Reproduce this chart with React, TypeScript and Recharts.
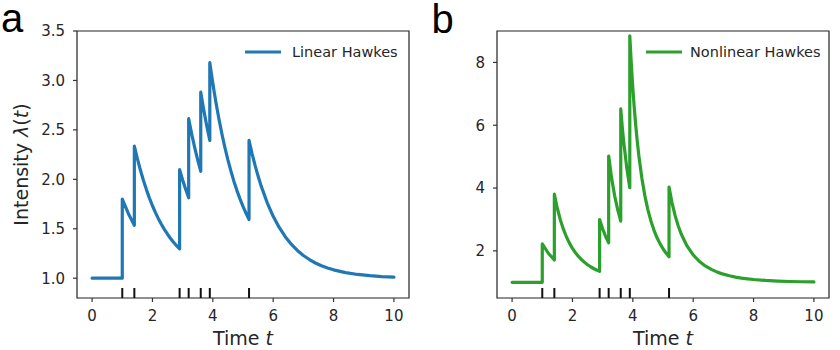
import React from "react";
import {
  ComposedChart,
  Line,
  Scatter,
  XAxis,
  YAxis,
  ReferenceArea,
  Legend,
} from "recharts";

// Sample times; repeated times mark the instantaneous jumps at each event.
const times = [
  0, 1.0, 1.0, 1.2, 1.4, 1.4, 1.5, 1.6, 1.7, 1.8,
  1.9, 2.0, 2.1, 2.2, 2.3, 2.4, 2.5, 2.6, 2.7, 2.8,
  2.9, 2.9, 3.0, 3.1, 3.2, 3.2, 3.3, 3.4, 3.5, 3.6,
  3.6, 3.65, 3.7, 3.8, 3.9, 3.9, 3.95, 4.0, 4.05, 4.1,
  4.15, 4.2, 4.3, 4.4, 4.5, 4.6, 4.7, 4.8, 4.9, 5.0,
  5.1, 5.2, 5.2, 5.3, 5.4, 5.5, 5.6, 5.8, 6.0, 6.2,
  6.4, 6.6, 6.8, 7.0, 7.2, 7.4, 7.6, 7.8, 8.0, 8.4,
  8.8, 9.2, 9.6, 10.0,
];

const linearIntensity = [
  1.0, 1.0, 1.8, 1.655, 1.536, 2.336, 2.209, 2.094, 1.99, 1.896,
  1.81, 1.733, 1.663, 1.6, 1.543, 1.492, 1.445, 1.402, 1.364, 1.329,
  1.298, 2.098, 1.994, 1.899, 1.813, 2.613, 2.459, 2.321, 2.195, 2.081,
  2.881, 2.789, 2.702, 2.54, 2.393, 3.18, 3.074, 2.973, 2.876, 2.785,
  2.698, 2.615, 2.461, 2.322, 2.196, 2.083, 1.979, 1.886, 1.802, 1.726,
  1.657, 1.594, 2.394, 2.261, 2.141, 2.033, 1.934, 1.765, 1.626, 1.513,
  1.42, 1.344, 1.281, 1.23, 1.189, 1.154, 1.126, 1.104, 1.085, 1.057,
  1.038, 1.026, 1.017, 1.011,
];

const nonlinearIntensity = [
  1.0, 1.0, 2.226, 1.925, 1.709, 3.804, 3.35, 2.986, 2.691, 2.45,
  2.248, 2.081, 1.941, 1.822, 1.721, 1.636, 1.56, 1.495, 1.439, 1.39,
  1.347, 2.998, 2.702, 2.457, 2.255, 5.018, 4.301, 3.747, 3.304, 2.948,
  6.52, 5.949, 5.457, 4.641, 4.011, 8.846, 7.955, 7.186, 6.528, 5.96,
  5.463, 5.028, 4.311, 3.751, 3.307, 2.954, 2.662, 2.425, 2.23, 2.067,
  1.929, 1.811, 4.031, 3.529, 3.13, 2.81, 2.545, 2.149, 1.87, 1.67,
  1.522, 1.411, 1.324, 1.259, 1.208, 1.166, 1.134, 1.11, 1.089, 1.059,
  1.039, 1.026, 1.017, 1.011,
];

// Event times shown as a rug along the bottom of each panel.
const eventTimes = [1.0, 1.4, 2.9, 3.2, 3.6, 3.9, 5.2];

const xTicks = [0, 2, 4, 6, 8, 10];
const linearYTicks = [1.0, 1.5, 2.0, 2.5, 3.0, 3.5];
const nonlinearYTicks = [2, 4, 6, 8];

const X_DOMAIN: [number, number] = [-0.5, 10.5];
const LINEAR_Y_DOMAIN: [number, number] = [0.8, 3.5];
const NONLINEAR_Y_DOMAIN: [number, number] = [0.5, 9.0];

const BLUE = "#1f77b4";
const GREEN = "#2ca02c";
const TEXT = "#262626";
const FONT = "DejaVu Sans";

const W = 420;
const H = 350;

type PanelProps = {
  values: number[];
  color: string;
  name: string;
  yDomain: [number, number];
  yTicks: number[];
  yFormat: (v: number) => string;
  yLabel: boolean;
  legendLeft: number;
  legendGap: number;
};

const EventTick = (props: any) => {
  const { cx, cy } = props;
  if (cx == null || cy == null) return null;
  return (
    <line x1={cx} x2={cx} y1={cy} y2={cy - 10} stroke="#111" strokeWidth={2} />
  );
};

const YLabel = (props: any) => {
  const vb = props.viewBox || {};
  const cy = (vb.y ?? 31) + (vb.height ?? 267) / 2;
  return (
    <text
      transform={`translate(27.5, ${cy}) rotate(-90)`}
      textAnchor="middle"
      fontFamily={FONT}
      fontSize={19}
      fill={TEXT}
    >
      Intensity <tspan fontStyle="italic">λ</tspan>(
      <tspan fontStyle="italic">t</tspan>)
    </text>
  );
};

const XLabel = (props: any) => {
  const vb = props.viewBox || {};
  const cx = (vb.x ?? 77) + (vb.width ?? 332) / 2;
  return (
    <text
      x={cx}
      y={345}
      textAnchor="middle"
      fontFamily={FONT}
      fontSize={19}
      fill={TEXT}
    >
      Time <tspan fontStyle="italic">t</tspan>
    </text>
  );
};

function Panel(p: PanelProps) {
  const series = times.map((t, i) => ({ t, v: p.values[i] }));
  const events = eventTimes.map((t) => ({ t, y: p.yDomain[0] }));
  const tickStyle = { fontFamily: FONT, fontSize: 15, fill: TEXT };

  return (
    <ComposedChart
      width={W}
      height={H}
      margin={{ top: 31, right: 11, bottom: 22, left: 37 }}
    >
      <XAxis
        dataKey="t"
        type="number"
        domain={X_DOMAIN}
        ticks={xTicks}
        allowDataOverflow
        axisLine={false}
        tickSize={4}
        tickMargin={8}
        tickLine={{ stroke: "#333", strokeWidth: 1.2 }}
        tick={tickStyle}
        height={30}
        label={<XLabel />}
      />
      <YAxis
        type="number"
        domain={p.yDomain}
        ticks={p.yTicks}
        allowDataOverflow
        axisLine={false}
        tickSize={4}
        tickMargin={8}
        tickLine={{ stroke: "#333", strokeWidth: 1.2 }}
        tick={tickStyle}
        tickFormatter={p.yFormat}
        width={40}
        label={p.yLabel ? <YLabel /> : undefined}
      />
      <ReferenceArea
        x1={X_DOMAIN[0]}
        x2={X_DOMAIN[1]}
        y1={p.yDomain[0]}
        y2={p.yDomain[1]}
        fill="none"
        stroke="#222"
        strokeWidth={1.2}
        ifOverflow="visible"
      />
      <Line
        data={series}
        dataKey="v"
        name={p.name}
        type="linear"
        stroke={p.color}
        strokeWidth={3.2}
        strokeLinejoin="round"
        strokeLinecap="round"
        dot={false}
        activeDot={false}
        isAnimationActive={false}
      />
      <Scatter
        data={events}
        dataKey="y"
        shape={<EventTick />}
        isAnimationActive={false}
        legendType="none"
      />
      <Legend
        layout="horizontal"
        verticalAlign="middle"
        align="center"
        wrapperStyle={{
          top: 43.5,
          left: p.legendLeft,
          width: "auto",
          height: "auto",
        }}
        content={() => (
          <div
            style={{
              display: "flex",
              alignItems: "center",
              fontFamily: FONT,
              fontSize: 14.5,
              color: TEXT,
              whiteSpace: "nowrap",
              lineHeight: "17px",
            }}
          >
            <svg width={36} height={6}>
              <line x1={0} x2={36} y1={3} y2={3} stroke={p.color} strokeWidth={3.2} />
            </svg>
            <span style={{ marginLeft: p.legendGap }}>{p.name}</span>
          </div>
        )}
      />
    </ComposedChart>
  );
}

export default function App() {
  return (
    <div
      style={{
        position: "absolute",
        left: 0,
        top: 0,
        width: 840,
        height: 350,
        background: "#fff",
      }}
    >
      <div style={{ position: "absolute", left: 0, top: 0 }}>
        <Panel
          values={linearIntensity}
          color={BLUE}
          name="Linear Hawkes"
          yDomain={LINEAR_Y_DOMAIN}
          yTicks={linearYTicks}
          yFormat={(v) => v.toFixed(1)}
          yLabel={true}
          legendLeft={245}
          legendGap={11}
        />
      </div>
      <div style={{ position: "absolute", left: 420, top: 0 }}>
        <Panel
          values={nonlinearIntensity}
          color={GREEN}
          name="Nonlinear Hawkes"
          yDomain={NONLINEAR_Y_DOMAIN}
          yTicks={nonlinearYTicks}
          yFormat={(v) => String(v)}
          yLabel={false}
          legendLeft={226}
          legendGap={8}
        />
      </div>
      <svg
        width={840}
        height={350}
        style={{ position: "absolute", left: 0, top: 0, pointerEvents: "none" }}
      >
        <text x={1} y={32} fontFamily="Liberation Sans" fontSize={40} fill="#000">
          a
        </text>
        <text x={431.5} y={33} fontFamily="Liberation Sans" fontSize={40} fill="#000">
          b
        </text>
      </svg>
    </div>
  );
}
